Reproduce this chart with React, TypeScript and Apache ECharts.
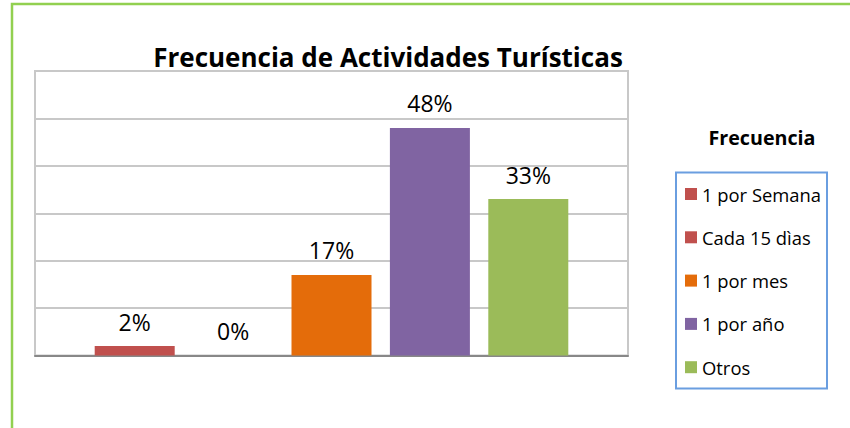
import React, { useEffect, useRef } from "react";
import * as echarts from "echarts";

const titleText = "Frecuencia de Actividades Turísticas";
const legendTitle = "Frecuencia";
const seriesNames = ["1 por Semana", "Cada 15 dìas", "1 por mes", "1 por año", "Otros"];
const seriesValues = [2, 0, 17, 48, 33];
const seriesColors = ["#C0504D", "#C0504D", "#E46C0A", "#8064A2", "#9BBB59"];
const categories = [""];
const yTicks = { min: 0, max: 60, interval: 10 };

const FONT = "'Open Sans', Lato, sans-serif";

export default function App() {
  const ref = useRef<HTMLDivElement>(null);
  useEffect(() => {
    if (!ref.current) return;
    const chart = echarts.init(ref.current, undefined, { renderer: "svg" });
    const series = seriesNames.map((name, i) => ({
      name,
      type: "bar",
      data: [seriesValues[i]],
      barWidth: 80,
      barGap: "23%",
      itemStyle: { color: seriesColors[i] },
      label: {
        show: true,
        position: "top",
        distance: 13,
        formatter: "{c}%",
        fontFamily: FONT,
        fontSize: 23,
        color: "#000",
      },
    }));
    chart.setOption({
      animation: false,
      backgroundColor: "#fff",
      grid: {
        left: 35,
        top: 71,
        width: 593,
        height: 284.5,
        show: true,
        borderColor: "#c8c8c8",
        borderWidth: 2,
      },
      xAxis: {
        type: "category",
        data: categories,
        axisTick: { show: false },
        axisLabel: { show: false },
        axisLine: { show: true, lineStyle: { color: "#888", width: 2 } },
      },
      yAxis: {
        type: "value",
        min: yTicks.min,
        max: yTicks.max,
        interval: yTicks.interval,
        axisLabel: { show: false },
        axisTick: { show: false },
        axisLine: { show: false },
        splitLine: { show: true, lineStyle: { color: "#c8c8c8", width: 2 } },
      },
      legend: {
        orient: "vertical",
        left: 680,
        top: 179,
        itemWidth: 12,
        itemHeight: 12,
        itemGap: 23.3,
        icon: "rect",
        data: seriesNames,
        textStyle: { fontFamily: FONT, fontSize: 18.4, color: "#000", lineHeight: 20 },
      },
      series,
      graphic: [
        {
          type: "rect",
          shape: { x: 12, y: 4, width: 900, height: 600 },
          style: { fill: "none", stroke: "#92D050", lineWidth: 2.5 },
          silent: true,
        },
        {
          type: "rect",
          shape: { x: 676, y: 172.5, width: 151, height: 216 },
          style: { fill: "none", stroke: "#6A9EE0", lineWidth: 2 },
          silent: true,
        },
        {
          type: "text",
          x: 388,
          y: 57,
          style: {
            text: titleText,
            fontFamily: FONT,
            fontWeight: "bold",
            fontSize: 26,
            fill: "#000",
            align: "center",
            verticalAlign: "middle",
          },
        },
        {
          type: "text",
          x: 762,
          y: 137,
          style: {
            text: legendTitle,
            fontFamily: FONT,
            fontWeight: "bold",
            fontSize: 19.7,
            fill: "#000",
            align: "center",
            verticalAlign: "middle",
          },
        },
      ],
    });
    return () => chart.dispose();
  }, []);
  return (
    <div
      ref={ref}
      style={{ position: "fixed", left: 0, top: 0, width: 850, height: 428 }}
    />
  );
}
